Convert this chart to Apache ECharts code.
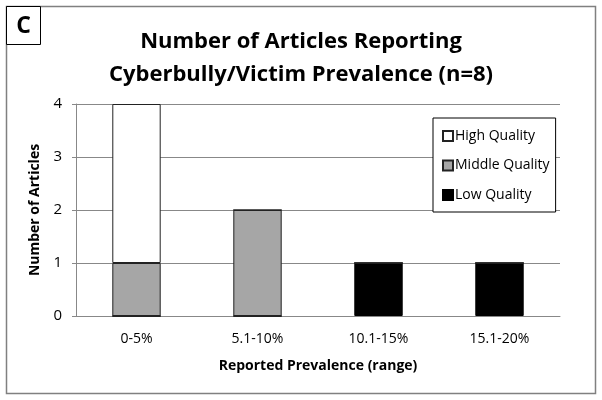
<!DOCTYPE html>
<html><head><meta charset="utf-8">
<script src="https://cdn.jsdelivr.net/npm/echarts@6/dist/echarts.min.js"></script>
<style>html,body{margin:0;padding:0;background:#fff}#c{width:602px;height:400px}</style>
</head><body><div id="c"></div>
<script>
const categories = ['0-5%', '5.1-10%', '10.1-15%', '15.1-20%'];
const lowQuality = [0, 0, 1, 1];
const middleQuality = [1, 2, 0, 0];
const highQuality = [3, 0, 0, 0];
const yTicks = [0, 1, 2, 3, 4];

const FONT = '"Open Sans", "Liberation Sans", sans-serif';
const chart = echarts.init(document.getElementById('c'), null, {renderer: 'canvas'});
chart.setOption({
  animation: false,
  backgroundColor: '#fff',
  textStyle: {fontFamily: FONT},
  title: {
    text: 'Number of Articles Reporting\nCyberbully/Victim Prevalence (n=8)',
    left: 'center', top: 20,
    textStyle: {fontFamily: FONT, fontWeight: 'bold', fontSize: 22, lineHeight: 33, color: '#000'}
  },
  graphic: [
    {type: 'rect', shape: {x: 6.5, y: 6.5, width: 589, height: 387}, style: {fill: 'none', stroke: '#808080', lineWidth: 1.5}, silent: true},
    {type: 'rect', shape: {x: 6.5, y: 6.5, width: 34, height: 38}, style: {fill: '#fff', stroke: '#000', lineWidth: 1}, silent: true},
    {type: 'text', x: 23.5, y: 26, style: {text: 'C', fontFamily: FONT, fontWeight: 'bold', fontSize: 23, fill: '#000', align: 'center', verticalAlign: 'middle'}}
  ],
  legend: {
    orient: 'vertical',
    left: 433, top: 118,
    padding: [11, 6, 10, 9],
    itemGap: 15.5,
    itemWidth: 10, itemHeight: 10,
    icon: 'rect',
    borderColor: '#000', borderWidth: 1,
    backgroundColor: '#fff',
    textStyle: {fontFamily: FONT, fontSize: 14, color: '#000', padding: [0, 0, 0, -3]},
    data: ['High Quality', 'Middle Quality', 'Low Quality']
  },
  grid: {left: 76, right: 42, top: 104, bottom: 84},
  xAxis: {
    type: 'category', data: categories,
    name: 'Reported Prevalence (range)', nameLocation: 'middle', nameGap: 43,
    nameTextStyle: {fontFamily: FONT, fontWeight: 'bold', fontSize: 14, color: '#000'},
    axisLine: {lineStyle: {color: '#888', width: 1}},
    axisTick: {show: false},
    axisLabel: {fontFamily: FONT, fontSize: 14, color: '#000', margin: 16}
  },
  yAxis: {
    type: 'value', min: 0, max: 4, interval: 1,
    name: 'Number of Articles', nameLocation: 'middle', nameGap: 34,
    nameTextStyle: {fontFamily: FONT, fontWeight: 'bold', fontSize: 14, color: '#000'},
    axisLine: {show: true, lineStyle: {color: '#888', width: 1}},
    axisTick: {show: true, length: 4, lineStyle: {color: '#888'}},
    axisLabel: {fontFamily: FONT, fontSize: 15, color: '#000', margin: 14,
      formatter: v => yTicks.includes(v) ? String(v) : ''},
    splitLine: {lineStyle: {color: '#888', width: 1}}
  },
  series: [
    {name: 'Low Quality', type: 'bar', stack: 'q', data: lowQuality, barWidth: '40%',
     itemStyle: {color: '#000', borderColor: '#000', borderWidth: 1}},
    {name: 'Middle Quality', type: 'bar', stack: 'q', data: middleQuality, barWidth: '40%',
     itemStyle: {color: '#a6a6a6', borderColor: '#222', borderWidth: 1}},
    {name: 'High Quality', type: 'bar', stack: 'q', data: highQuality, barWidth: '40%',
     itemStyle: {color: '#fff', borderColor: '#222', borderWidth: 1}}
  ]
});
</script></body></html>
